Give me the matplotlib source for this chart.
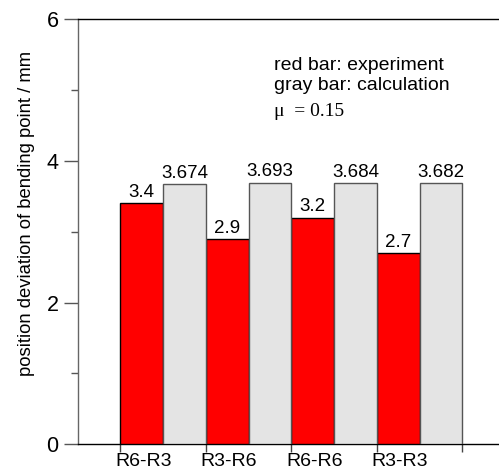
import numpy as np
import matplotlib
matplotlib.use("Agg")
import matplotlib.pyplot as plt

cases = ["R6-R3", "R3-R6", "R6-R6", "R3-R3"]
experiment = [3.4, 2.9, 3.2, 2.7]
calculation = [3.674, 3.693, 3.684, 3.682]
exp_labels = ["3.4", "2.9", "3.2", "2.7"]
calc_labels = ["3.674", "3.693", "3.684", "3.682"]

plt.rcParams['font.family'] = ['Liberation Sans', 'DejaVu Sans']

fig = plt.figure(figsize=(4.99, 4.69), dpi=100)
ax = fig.add_axes([78/499, 1 - 444.3/469, 1 - 78/499, (444.3 - 19.3)/469])

x = np.arange(len(cases))
ax.bar(x, experiment, width=0.5, align='edge', color='#ff0000',
       edgecolor='black', linewidth=1, zorder=3)
ax.bar(x + 0.5, calculation, width=0.5, align='edge', color='#e4e4e4',
       edgecolor='#555555', linewidth=1, zorder=3)

for i in range(len(cases)):
    ax.annotate(exp_labels[i], (x[i] + 0.25, experiment[i]), xytext=(0, 4.5),
                textcoords='offset points', ha='center', va='baseline', fontsize=13.5)
    ax.annotate(calc_labels[i], (x[i] + 0.75, calculation[i]), xytext=(0, 4.5),
                textcoords='offset points', ha='center', va='baseline', fontsize=13.5)

ax.set_xlim(-0.495, -0.495 + 421/85.5)
ax.set_ylim(0, 6)

# ticks at bar-group edges, labels under the red bars
ax.set_xticks(np.arange(len(cases) + 1))
ax.set_xticklabels([])
ax.set_xticks(x + 0.27, minor=True)
ax.set_xticklabels(cases, minor=True, fontsize=14)
ax.tick_params(axis='x', which='major', direction='out', length=6, width=1, color='#444444')
ax.tick_params(axis='x', which='minor', length=0, pad=6.5)

ax.set_yticks([0, 2, 4, 6])
ax.set_yticks([1, 3, 5], minor=True)
ax.tick_params(axis='y', which='major', direction='out', length=10, width=1,
               color='#555555', labelsize=15.5, pad=4)
ax.tick_params(axis='y', which='minor', direction='out', length=5, width=1, color='#555555')

ax.spines['right'].set_visible(False)
ax.spines['left'].set_color('#666666')
ax.spines['top'].set_color('black')
ax.spines['bottom'].set_color('black')
for s in ax.spines.values():
    s.set_linewidth(1)

fig.text(27/499, 1 - 213.5/469, "position deviation of bending point / mm",
         rotation=90, ha='center', va='center', fontsize=13.3)

fig.text(274/499, 1 - 69.5/469, "red bar: experiment", fontsize=14, va='baseline')
fig.text(274/499, 1 - 90/469, "gray bar: calculation", fontsize=14, va='baseline')
fig.text(274/499, 1 - 115.5/469, "\u03bc  = 0.15", fontsize=14, va='baseline',
         family=['Liberation Serif', 'DejaVu Serif'])

fig.savefig("out.png", dpi=100)
